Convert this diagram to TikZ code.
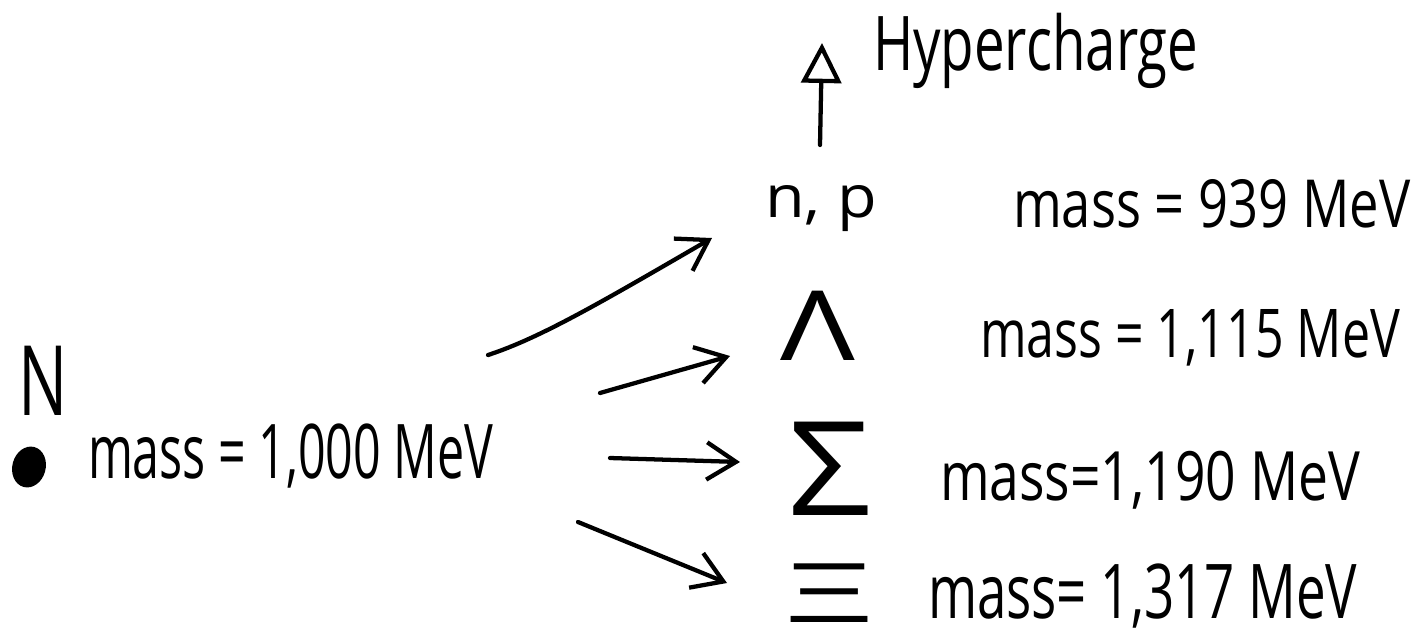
\documentclass[tikz,border=0pt]{standalone}
\usepackage{fontspec}
\setmainfont{Open Sans}
\usetikzlibrary{arrows.meta,shapes.geometric}
\begin{document}
\begin{tikzpicture}[x=0.75pt,y=-0.75pt,
  lbl/.style={anchor=base west, inner sep=0pt, outer sep=0pt},
  hand/.style={line width=3.2pt, line cap=round, line join=round},
  barb/.style={hand, -{Straight Barb[length=22pt,width=28pt]}},
  uparrow/.style={hand, -{Triangle[open,length=30pt,width=30pt]}},
  blob/.style={ellipse, fill=black, draw=none, minimum width=25pt, minimum height=31pt, inner sep=0pt, rotate=-15}
  ]
\useasboundingbox[fill=white] (0,0) rectangle (1424,640);

% left particle
\node[lbl] (N) at (18,415) {\resizebox{37pt}{52pt}{N}};
\node[blob] (dot) at (29,467) {};
\node[lbl] (m0) at (88,478) {\resizebox{304pt}{41pt}{mass = 1,000 MeV}};

% split particles
\node[lbl] (np) at (765,217) {\resizebox{84pt}{24pt}{n, p}};
\node[lbl] (Lam) at (780,360) {\resizebox{56pt}{52pt}{Λ}};
\node[lbl] (Sig) at (788,515) {\resizebox{62pt}{70pt}{Σ}};
\node[lbl] (Xi) at (785,622) {\resizebox{66pt}{44pt}{Ξ}};

% hypercharge axis
\node[lbl] (hyp) at (873,70) {\resizebox{244pt}{43pt}{Hypercharge}};
\coordinate (ub) at (820,145);
\coordinate (ut) at (822,43);
\draw[uparrow] (ub) -- (ut);

% masses
\node[lbl] (m1) at (1013,227) {\resizebox{298pt}{36pt}{mass = 939 MeV}};
\node[lbl] (m2) at (980,357) {\resizebox{315pt}{36pt}{mass = 1,115 MeV}};
\node[lbl] (m3) at (940,500) {\resizebox{315pt}{37pt}{mass=1,190 MeV}};
\node[lbl] (m4) at (928,618) {\resizebox{322pt}{41pt}{mass= 1,317 MeV}};

% arrows
\coordinate (s1) at (488,355);
\coordinate (e1) at (712,238);
\coordinate (s2) at (600,393);
\coordinate (e2) at (730,356);
\coordinate (s3) at (610,458);
\coordinate (e3) at (740,462);
\coordinate (s4) at (578,522);
\coordinate (e4) at (727,583);
\draw[barb] (s1) .. controls (540,338) and (600,303) .. (e1);
\draw[barb] (s2) -- (e2);
\draw[barb] (s3) -- (e3);
\draw[barb] (s4) -- (e4);
\end{tikzpicture}
\end{document}
